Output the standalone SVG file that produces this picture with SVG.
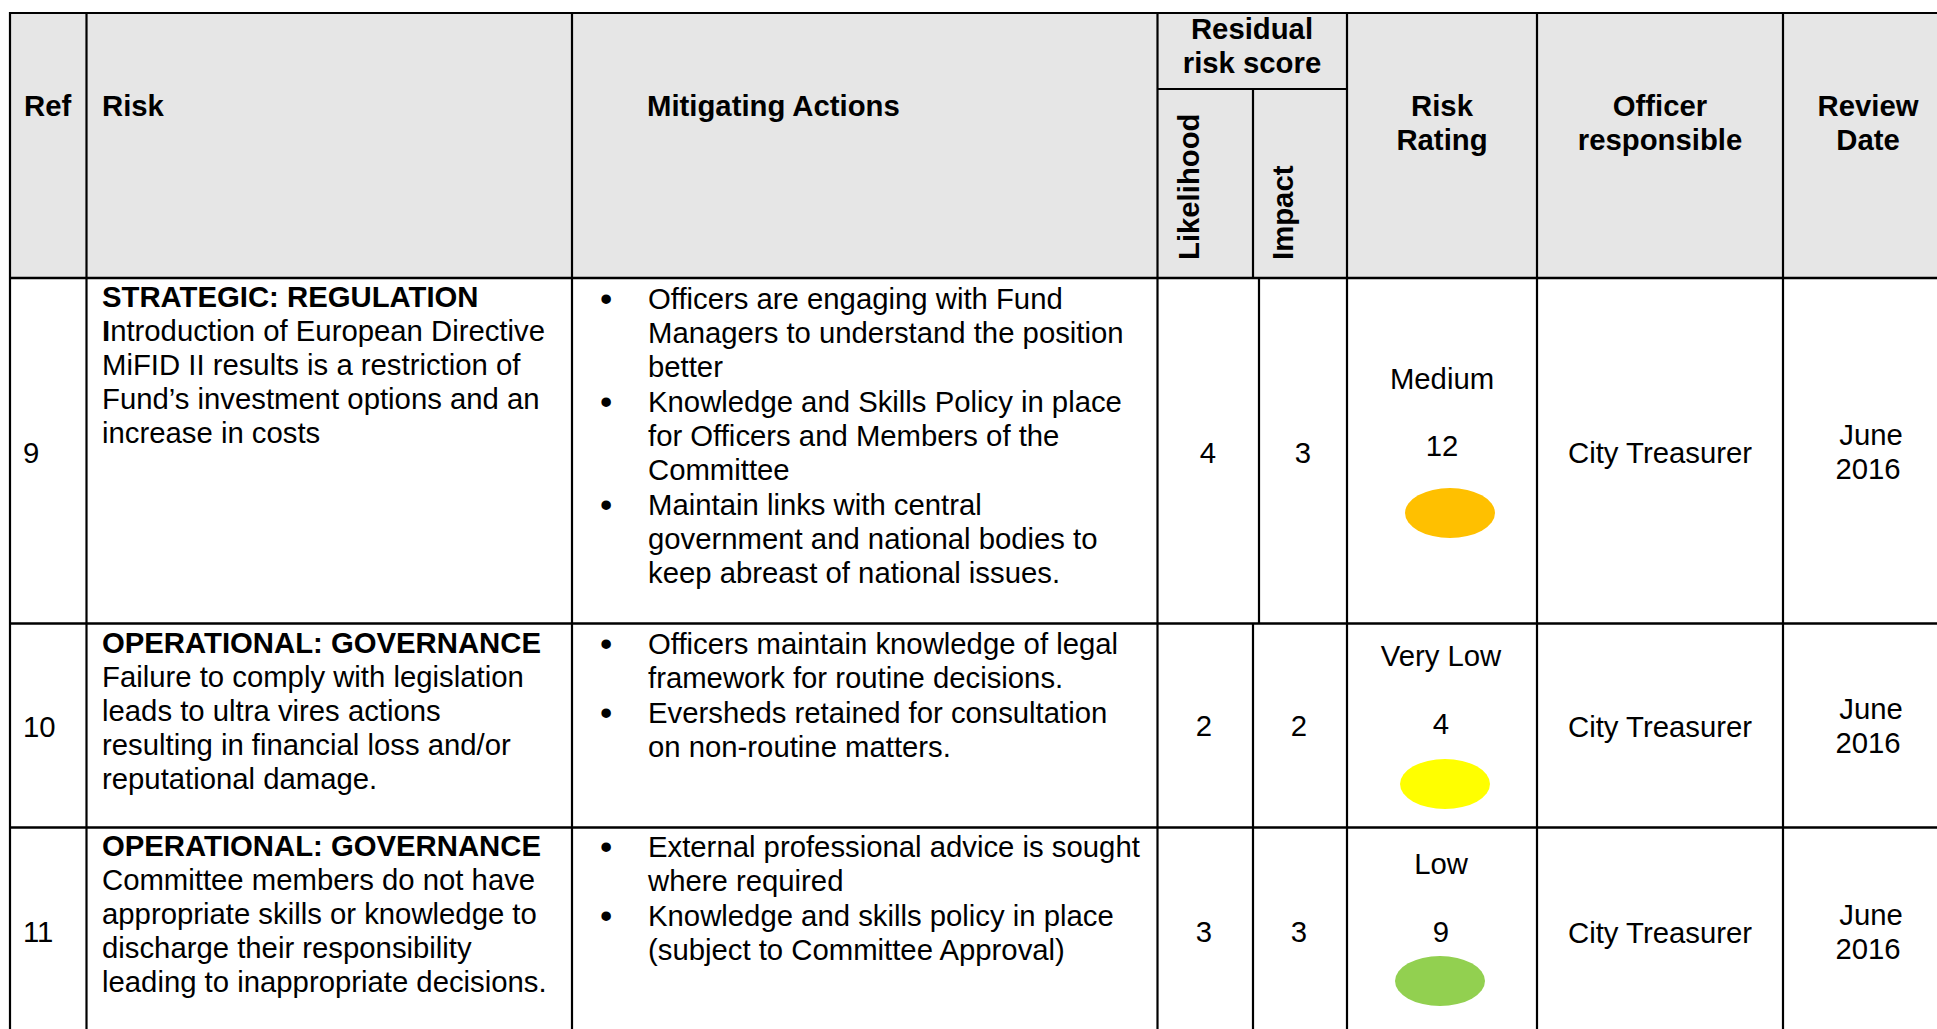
<svg xmlns="http://www.w3.org/2000/svg" width="1937" height="1029" viewBox="0 0 1937 1029">
<style>
text{font-family:"Liberation Sans",Arial,sans-serif;font-size:29.3px;fill:#000}
.b{font-weight:bold}
.c{text-anchor:middle}
.bu{font-size:35px}
.g{stroke:#000;stroke-width:2.2;fill:none}
.h{stroke:#000;stroke-width:2.6;fill:none}
</style>
<rect x="0" y="0" width="1937" height="1029" fill="#fff"/>
<rect id="header-bg" x="10" y="13" width="1927" height="265" fill="#E6E6E6"/>

<g id="header" transform="translate(0,1)">
  <g id="h-ref"><text class="b" x="24" y="115">Ref</text></g>
  <g id="h-risk"><text class="b" x="102" y="115">Risk</text></g>
  <g id="h-mit"><text class="b" x="647" y="115">Mitigating Actions</text></g>
  <g id="h-residual"><text class="b c" x="1252" y="38">Residual</text><text class="b c" x="1252" y="72">risk score</text></g>
  <g id="h-likelihood"><text class="b" transform="translate(1199,259) rotate(-90)">Likelihood</text></g>
  <g id="h-impact"><text class="b" transform="translate(1293,259) rotate(-90)">Impact</text></g>
  <g id="h-rating"><text class="b c" x="1442" y="115">Risk</text><text class="b c" x="1442" y="149">Rating</text></g>
  <g id="h-officer"><text class="b c" x="1660" y="115">Officer</text><text class="b c" x="1660" y="149">responsible</text></g>
  <g id="h-review"><text class="b c" x="1868" y="115">Review</text><text class="b c" x="1868" y="149">Date</text></g>
</g>

<g id="row-9" transform="translate(0,1)">
  <g id="r9-ref"><text x="23" y="462">9</text></g>
  <g id="r9-risk">
    <text class="b" x="102" y="306">STRATEGIC: REGULATION</text>
    <text x="102" y="340"><tspan class="b">I</tspan>ntroduction of European Directive</text>
    <text x="102" y="374">MiFID II results is a restriction of</text>
    <text x="102" y="408">Fund’s investment options and an</text>
    <text x="102" y="442">increase in costs</text>
  </g>
  <g id="r9-mit">
    <text class="bu" x="600" y="310">•</text>
    <text x="648" y="308">Officers are engaging with Fund</text>
    <text x="648" y="342">Managers to understand the position</text>
    <text x="648" y="376">better</text>
    <text class="bu" x="600" y="413">•</text>
    <text x="648" y="411">Knowledge and Skills Policy in place</text>
    <text x="648" y="445">for Officers and Members of the</text>
    <text x="648" y="479">Committee</text>
    <text class="bu" x="600" y="516">•</text>
    <text x="648" y="514">Maintain links with central</text>
    <text x="648" y="548">government and national bodies to</text>
    <text x="648" y="582">keep abreast of national issues.</text>
  </g>
  <g id="r9-likelihood"><text class="c" x="1208" y="462">4</text></g>
  <g id="r9-impact"><text class="c" x="1303" y="462">3</text></g>
  <g id="r9-rating">
    <text class="c" x="1442" y="388">Medium</text>
    <text class="c" x="1442" y="455">12</text>
    <ellipse cx="1450" cy="512" rx="45" ry="25" fill="#FFC000"/>
  </g>
  <g id="r9-officer"><text class="c" x="1660" y="462">City Treasurer</text></g>
  <g id="r9-review"><text class="c" x="1871" y="444">June</text><text class="c" x="1868" y="478">2016</text></g>
</g>

<g id="row-10" transform="translate(0,1)">
  <g id="r10-ref"><text x="23" y="736">10</text></g>
  <g id="r10-risk">
    <text class="b" x="102" y="652">OPERATIONAL: GOVERNANCE</text>
    <text x="102" y="686">Failure to comply with legislation</text>
    <text x="102" y="720">leads to ultra vires actions</text>
    <text x="102" y="754">resulting in financial loss and/or</text>
    <text x="102" y="788">reputational damage.</text>
  </g>
  <g id="r10-mit">
    <text class="bu" x="600" y="655">•</text>
    <text x="648" y="653">Officers maintain knowledge of legal</text>
    <text x="648" y="687">framework for routine decisions.</text>
    <text class="bu" x="600" y="724">•</text>
    <text x="648" y="722">Eversheds retained for consultation</text>
    <text x="648" y="756">on non-routine matters.</text>
  </g>
  <g id="r10-likelihood"><text class="c" x="1204" y="735">2</text></g>
  <g id="r10-impact"><text class="c" x="1299" y="735">2</text></g>
  <g id="r10-rating">
    <text class="c" x="1441" y="665">Very Low</text>
    <text class="c" x="1441" y="733">4</text>
    <ellipse cx="1445" cy="783" rx="45" ry="25" fill="#FFFF00"/>
  </g>
  <g id="r10-officer"><text class="c" x="1660" y="736">City Treasurer</text></g>
  <g id="r10-review"><text class="c" x="1871" y="718">June</text><text class="c" x="1868" y="752">2016</text></g>
</g>

<g id="row-11" transform="translate(0,1)">
  <g id="r11-ref"><text x="23" y="941">11</text></g>
  <g id="r11-risk">
    <text class="b" x="102" y="855">OPERATIONAL: GOVERNANCE</text>
    <text x="102" y="889">Committee members do not have</text>
    <text x="102" y="923">appropriate skills or knowledge to</text>
    <text x="102" y="957">discharge their responsibility</text>
    <text x="102" y="991">leading to inappropriate decisions.</text>
  </g>
  <g id="r11-mit">
    <text class="bu" x="600" y="858">•</text>
    <text x="648" y="856">External professional advice is sought</text>
    <text x="648" y="890">where required</text>
    <text class="bu" x="600" y="927">•</text>
    <text x="648" y="925">Knowledge and skills policy in place</text>
    <text x="648" y="959">(subject to Committee Approval)</text>
  </g>
  <g id="r11-likelihood"><text class="c" x="1204" y="941">3</text></g>
  <g id="r11-impact"><text class="c" x="1299" y="941">3</text></g>
  <g id="r11-rating">
    <text class="c" x="1441" y="873">Low</text>
    <text class="c" x="1441" y="941">9</text>
    <ellipse cx="1440" cy="980" rx="45" ry="25" fill="#92D050"/>
  </g>
  <g id="r11-officer"><text class="c" x="1660" y="942">City Treasurer</text></g>
  <g id="r11-review"><text class="c" x="1871" y="924">June</text><text class="c" x="1868" y="958">2016</text></g>
</g>

<g id="grid">
  <line class="g" x1="9" y1="13" x2="1937" y2="13"/>
  <line class="g" x1="10" y1="12" x2="10" y2="1029"/>
  <line class="g" x1="86.5" y1="13" x2="86.5" y2="1029"/>
  <line class="g" x1="572" y1="13" x2="572" y2="1029"/>
  <line class="g" x1="1157.5" y1="13" x2="1157.5" y2="1029"/>
  <line class="g" x1="1347" y1="13" x2="1347" y2="1029"/>
  <line class="g" x1="1537" y1="13" x2="1537" y2="1029"/>
  <line class="g" x1="1783" y1="13" x2="1783" y2="1029"/>
  <line class="g" x1="1157.5" y1="89" x2="1347" y2="89"/>
  <line class="g" x1="1253" y1="89" x2="1253" y2="278"/>
  <line class="g" x1="1259" y1="278" x2="1259" y2="623.5"/>
  <line class="g" x1="1253" y1="623.5" x2="1253" y2="1029"/>
  <line class="h" x1="9" y1="278" x2="1937" y2="278"/>
  <line class="h" x1="9" y1="623.5" x2="1937" y2="623.5"/>
  <line class="h" x1="9" y1="827.5" x2="1937" y2="827.5"/>
</g>
</svg>
